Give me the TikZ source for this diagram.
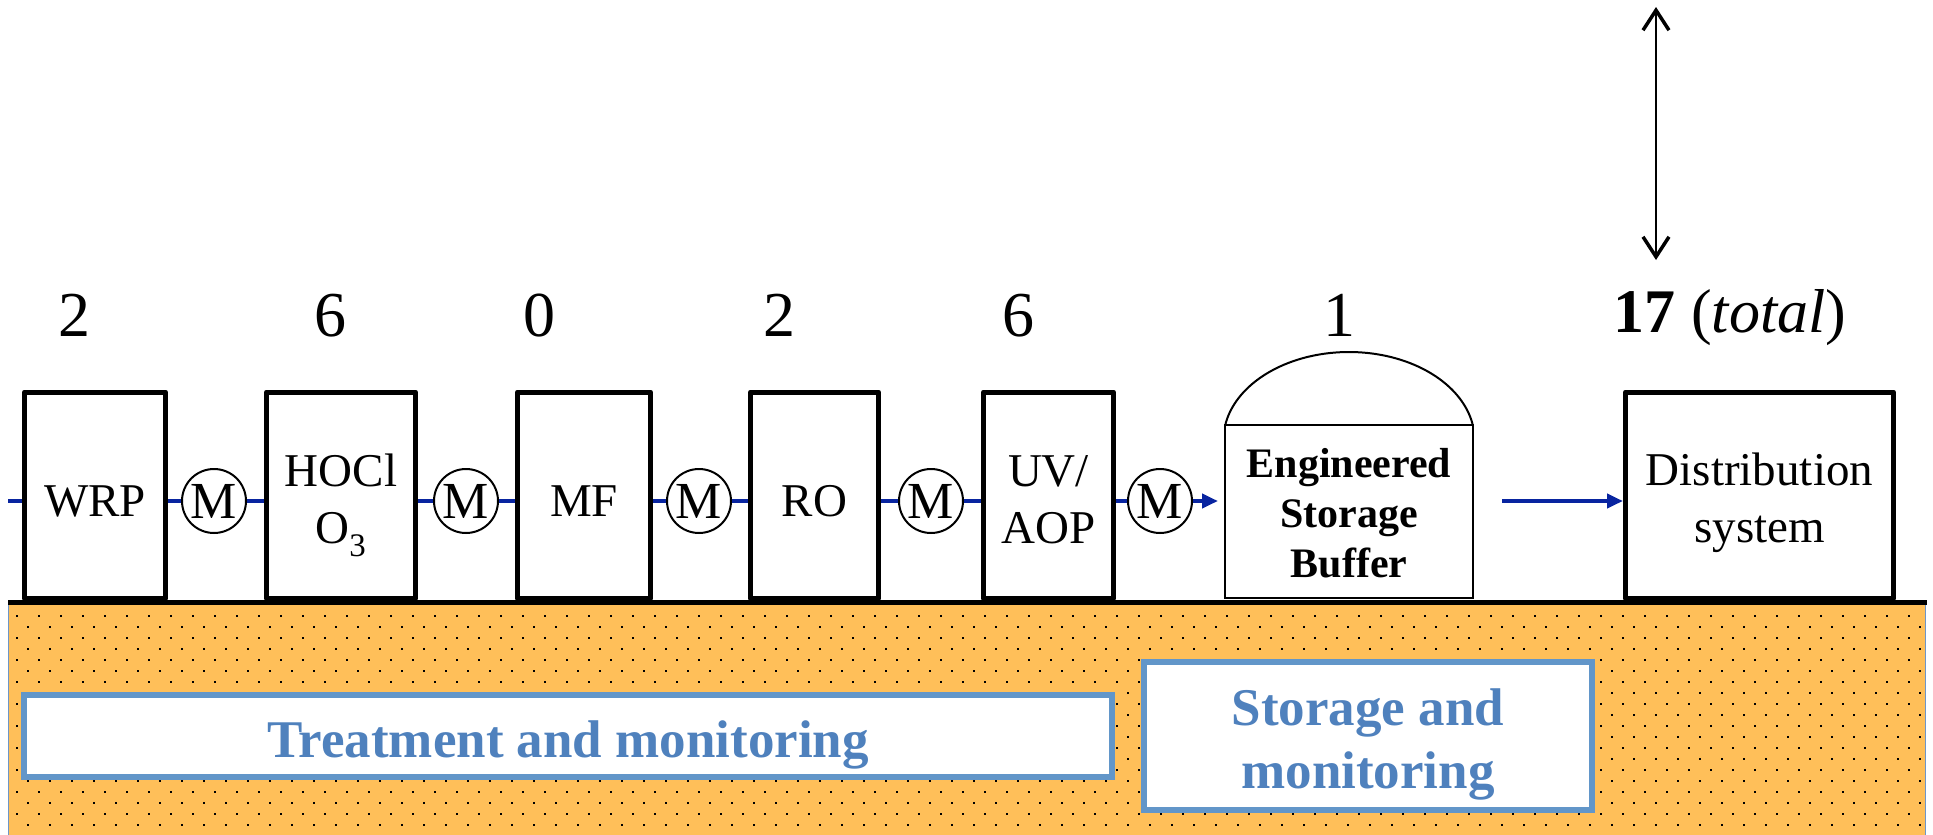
\documentclass[tikz,border=0pt]{standalone}
\usepackage{fontspec}
\setmainfont{Liberation Serif}
\usetikzlibrary{arrows.meta}
\definecolor{flowblue}{RGB}{8,36,160}
\definecolor{groundorange}{RGB}{255,191,89}
\definecolor{labelborder}{RGB}{98,150,201}
\definecolor{labeltext}{RGB}{79,129,189}
\definecolor{edgeblue}{RGB}{110,150,200}
\begin{document}
\begin{tikzpicture}[x=1pt,y=-1pt,
 unitbox/.style={draw, line width=5pt, line join=round, fill=white, inner sep=0pt,
   minimum height=206pt, font=\fontsize{47}{57}\selectfont, align=center,
   text height=42pt, text depth=0pt},
 twoline/.style={text height=96pt, text depth=0pt},
 meter/.style={draw, circle, line width=2pt, fill=white, minimum size=64pt,
   inner sep=0pt, font=\fontsize{52}{60}\selectfont},
 flow/.style={draw=flowblue, line width=4pt},
 flowarrow/.style={flow, -{Triangle[length=16pt,width=14pt]}},
 count/.style={anchor=base, font=\fontsize{64}{70}\selectfont},
 zonebox/.style={draw=labelborder, line width=6pt, fill=white, inner sep=0pt,
   text=labeltext, font=\fontsize{53}{63}\selectfont\bfseries, align=center},
 barb/.style={line width=2.5pt,
   {Straight Barb[length=20pt,width=26pt,line width=3.5pt]}-{Straight Barb[length=20pt,width=26pt,line width=3.5pt]}},
]
\useasboundingbox (0,0) rectangle (1933,835);

% ground
\fill[groundorange] (8,605) rectangle (1925,840);
\draw[edgeblue, line width=1pt] (8,605) -- (8,840) (1925,605) -- (1925,840);
\begin{scope}
\clip (8,605) rectangle (1925,835);
\foreach \r in {0,...,19}{
  \pgfmathtruncatemacro\xo{ifthenelse(mod(\r,2)==0,17,28)}
  \pgfmathtruncatemacro\yy{616+11*\r}
  \foreach \k in {0,...,86}{
    \fill (\xo+22*\k-1.3, \yy-1.3) rectangle ++(2.6,2.6);
  }
}
\end{scope}
\draw[line width=5pt] (8,602.5) -- (1927,602.5);

% units
\node[unitbox, minimum width=141pt] (wrp) at (95,495) {WRP};
\node[unitbox, twoline, minimum width=149pt] (hocl) at (341,495) {HOCl\\O\textsubscript{3}};
\node[unitbox, minimum width=133pt] (mf) at (584,495) {MF};
\node[unitbox, minimum width=128pt] (ro) at (814.5,495) {RO};
\node[unitbox, twoline, minimum width=130pt] (uv) at (1048.5,495) {UV/\\AOP};
\node[unitbox, minimum width=268pt, text height=94pt, text depth=0pt] (dist) at (1759.5,495) {Distribution\\system};

% storage buffer
\node[draw, line width=2pt, fill=white, inner sep=0pt, minimum width=248pt, minimum height=173pt,
  font=\fontsize{42}{50}\selectfont\bfseries, align=center, text height=131pt, text depth=0pt]
  (esb) at (1349,511.5) {Engineered\\Storage\\Buffer};
\draw[line width=2pt] plot[domain=10.5:169.5, samples=90] ({1349+125.6*cos(\x)}, {440-88*sin(\x)});

% meters
\node[meter] (m1) at (214,501) {M};
\node[meter] (m2) at (466,501) {M};
\node[meter] (m3) at (699,501) {M};
\node[meter] (m4) at (931,501) {M};
\node[meter] (m5) at (1160,501) {M};

% flow lines
\coordinate (src) at (8,501);
\coordinate (dsrc) at (1502,501);
\draw[flow] (src) -- (wrp.west |- m1);
\draw[flow] (wrp.east |- m1) -- (m1.west);
\draw[flow] (m1.east) -- (hocl.west |- m1);
\draw[flow] (hocl.east |- m2) -- (m2.west);
\draw[flow] (m2.east) -- (mf.west |- m2);
\draw[flow] (mf.east |- m3) -- (m3.west);
\draw[flow] (m3.east) -- (ro.west |- m3);
\draw[flow] (ro.east |- m4) -- (m4.west);
\draw[flow] (m4.east) -- (uv.west |- m4);
\draw[flow] (uv.east |- m5) -- (m5.west);
\draw[flowarrow, shorten >=6pt] (m5.east) -- (esb.west |- m5);
\draw[flowarrow] (dsrc) -- (dist.west |- dsrc);

% counts
\node[count] (c1) at (74,336) {2};
\node[count] (c2) at (330,336) {6};
\node[count] (c3) at (539,336) {0};
\node[count] (c4) at (779,336) {2};
\node[count] (c5) at (1018,336) {6};
\node[count] (c6) at (1339,336) {1};
\node[count, font=\fontsize{62}{70}\selectfont] (ctot) at (1730,332) {\textbf{17} (\textit{total})};

% vertical arrow
\coordinate (vtop) at (1656,7);
\coordinate (vbot) at (1656,260);
\draw[barb] (vtop) -- (vbot);

% zone labels
\node[zonebox, minimum width=1088pt, minimum height=82pt, text height=42pt, text depth=0pt]
  (treat) at (568,736) {Treatment and monitoring};
\node[zonebox, minimum width=448pt, minimum height=148pt, text height=104pt, text depth=0pt]
  (store) at (1368,736) {Storage and\\monitoring};
\end{tikzpicture}
\end{document}
